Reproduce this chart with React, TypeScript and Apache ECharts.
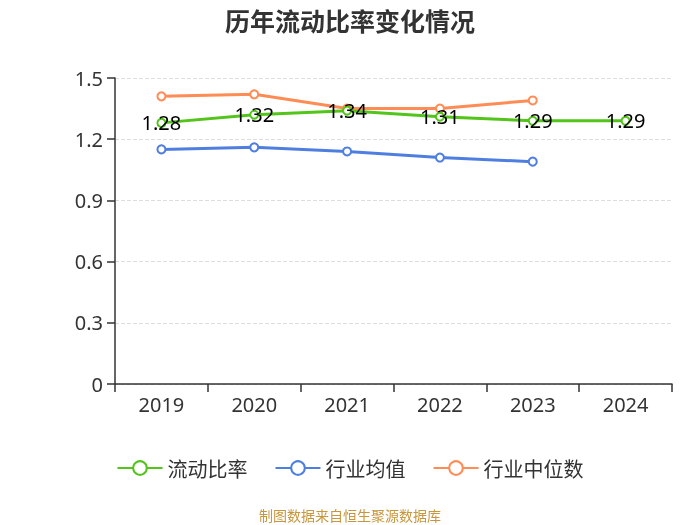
import React, { useEffect, useRef } from "react";
import * as echarts from "echarts";

const categories = ["2019", "2020", "2021", "2022", "2023", "2024"];
const currentRatio = [1.28, 1.32, 1.34, 1.31, 1.29, 1.29];
const industryMean = [1.15, 1.16, 1.14, 1.11, 1.09];
const industryMedian = [1.41, 1.42, 1.35, 1.35, 1.39];

export default function App() {
  const ref = useRef<HTMLDivElement>(null);
  useEffect(() => {
    if (!ref.current) return;
    const chart = echarts.init(ref.current, undefined, { renderer: "svg" });
    const mk = (name: string, data: number[], color: string, label: boolean) => ({
      name,
      type: "line",
      data,
      symbol: "circle",
      symbolSize: 8,
      showSymbol: true,
      itemStyle: { color: "#fff", borderColor: color, borderWidth: 2 },
      lineStyle: { color, width: 3 },
      label: label
        ? { show: true, position: "inside", color: "#000", fontSize: 20, fontFamily: "Noto Sans" }
        : { show: false },
      z: label ? 3 : 2,
    });
    chart.setOption({
      animation: false,
      title: {
        text: "历年流动比率变化情况",
        left: "center",
        top: 2,
        textStyle: { fontSize: 25, fontWeight: "bold", color: "#333", fontFamily: "Noto Sans CJK SC" },
      },
      grid: { left: 115, right: 28, top: 78, bottom: 141 },
      legend: {
        top: 453,
        left: "center",
        itemWidth: 45,
        itemHeight: 17,
        itemGap: 27,
        textStyle: { fontSize: 20, color: "#333", fontFamily: "Noto Sans CJK SC" },
        data: ["流动比率", "行业均值", "行业中位数"],
      },
      graphic: [
        {
          type: "text",
          left: "center",
          top: 508,
          style: { text: "制图数据来自恒生聚源数据库", fill: "#c8963c", fontSize: 14, fontFamily: "Noto Sans CJK SC" },
        },
      ],
      xAxis: {
        type: "category",
        data: categories,
        boundaryGap: true,
        axisLine: { lineStyle: { color: "#333", width: 1.5 } },
        axisTick: { show: true, length: 8, lineStyle: { color: "#333", width: 1.5 } },
        axisLabel: { fontSize: 20, color: "#333", margin: 10, fontFamily: "Noto Sans" },
      },
      yAxis: {
        type: "value",
        min: 0,
        max: 1.5,
        interval: 0.3,
        axisLine: { show: true, lineStyle: { color: "#333", width: 1.5 } },
        axisTick: { show: true, length: 8, lineStyle: { color: "#333", width: 1.5 } },
        axisLabel: { fontSize: 20, color: "#333", margin: 12, fontFamily: "Noto Sans" },
        splitLine: { lineStyle: { type: "dashed", color: "#ddd" } },
      },
      series: [
        mk("流动比率", currentRatio, "#52c41a", true),
        mk("行业均值", industryMean, "#4e7fe0", false),
        mk("行业中位数", industryMedian, "#ff8c55", false),
      ],
    });
    return () => chart.dispose();
  }, []);
  return <div ref={ref} style={{ position: "fixed", left: 0, top: 0, width: 700, height: 525 }} />;
}
